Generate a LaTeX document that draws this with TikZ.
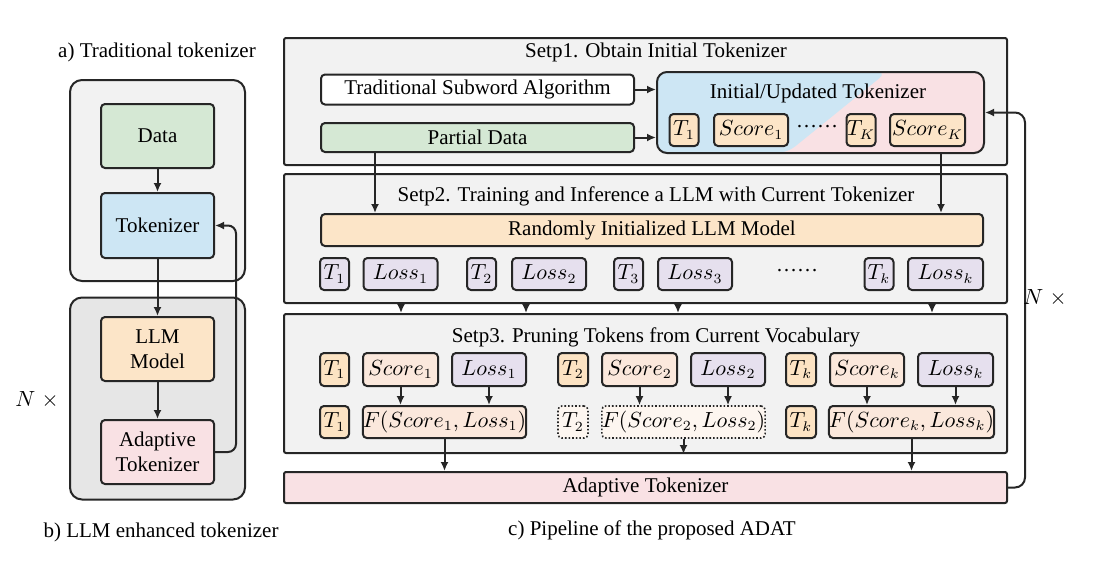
\documentclass[tikz,border=0pt]{standalone}
\usepackage{fontspec}
\setmainfont{Liberation Serif}
\usetikzlibrary{arrows.meta}
\definecolor{edge}{HTML}{262626}
\definecolor{cpanel}{HTML}{F2F2F2}
\definecolor{cpanelb}{HTML}{E6E6E6}
\definecolor{cgreen}{HTML}{D5E8D4}
\definecolor{cblue}{HTML}{CDE6F4}
\definecolor{corange}{HTML}{FCE5C8}
\definecolor{ctok}{HTML}{FCE3C3}
\definecolor{cscore}{HTML}{FBE8DC}
\definecolor{closs}{HTML}{E6E0EE}
\definecolor{cpink}{HTML}{F9E1E4}
\definecolor{cpruned}{HTML}{FDF6F0}
\begin{document}
\begin{tikzpicture}[x=0.5pt,y=-0.5pt,
  font=\fontsize{10.5}{12.5}\selectfont,
  box/.style={draw=edge,line width=1pt,rounded corners=2pt,inner sep=0pt,align=center},
  sq/.style={box,minimum width=14.5pt,minimum height=16pt,fill=ctok},
  sc/.style={box,minimum width=37pt,minimum height=16pt,fill=cscore},
  ls/.style={box,minimum width=37pt,minimum height=16pt,fill=closs},
  fx/.style={box,minimum width=81.5pt,minimum height=16pt,fill=cscore},
  cut/.style={line width=0.8pt,densely dotted,fill=cpruned},
  panel/.style={box,rounded corners=1pt,fill=cpanel,minimum width=361.5pt},
  arr/.style={draw=edge,line width=1pt,-{Latex[length=4.5pt,width=4pt]}}]
\useasboundingbox (0,0) rectangle (1094,564);

\node[box,rounded corners=6pt,fill=cpanel,minimum width=87.5pt,minimum height=100.5pt] (oa) at (157.5,180.5) {};
\node[box,rounded corners=6pt,fill=cpanelb,minimum width=87.5pt,minimum height=101pt] (ob) at (157.5,398.5) {};
\node[box,fill=cgreen,minimum width=56.5pt,minimum height=32pt] (d) at (157.5,136) {Data};
\node[box,fill=cblue,minimum width=56.5pt,minimum height=32.5pt] (tok) at (157.5,225.5) {Tokenizer};
\node[box,fill=corange,minimum width=56.5pt,minimum height=32pt] (llm) at (157.5,349) {LLM\\Model};
\node[box,fill=cpink,minimum width=56.5pt,minimum height=32pt] (ada) at (157.5,452) {Adaptive\\Tokenizer};
\node (la) at (157,52) {a) Traditional tokenizer};
\node (lb) at (161,532) {b) LLM enhanced tokenizer};
\node (na) at (37,400) {$N\;\times$};
\path[arr] (d) -- (tok);
\path[arr] (tok) -- (llm);
\path[arr] (llm) -- (ada);
\path[arr,rounded corners=4pt] (ada.east) -- ++(21,0) |- (tok.east);

\node[panel,minimum height=63.5pt] (s1) at (645.5,101.5) {};
\node[panel,minimum height=64.5pt] (s2) at (645.5,238.5) {};
\node[panel,minimum height=69.5pt] (s3) at (645.5,383.5) {};
\node (s1t) at (656,52) {Setp1. Obtain Initial Tokenizer};
\node (s2t) at (656,196) {Setp2. Training and Inference a LLM with Current Tokenizer};
\node (s3t) at (656,337) {Setp3. Pruning Tokens from Current Vocabulary};

\node[box,fill=white,minimum width=156.5pt,minimum height=15pt] (tsa) at (477.5,89.5) {Traditional Subword Algorithm};
\node[box,fill=cgreen,minimum width=156.5pt,minimum height=14.5pt] (pd) at (477.5,137.5) {Partial Data};
\node[box,rounded corners=5pt,fill=cpink,minimum width=163.5pt,minimum height=40.5pt,
  path picture={\fill[cblue] (path picture bounding box.north west) -- ([xshift=115pt]path picture bounding box.north west) -- ([xshift=65pt]path picture bounding box.south west) -- (path picture bounding box.south west) -- cycle;}] (ini) at (820.5,112.5) {};
\node (init) at (818,93) {Initial/Updated Tokenizer};
\node[sq] (it1) at (684,130) {$T_1$};
\node[sq,fill=corange,minimum width=37pt] (is1) at (751,130) {$Score_1$};
\node (idots) at (817,127) {\ldots\ldots};
\node[sq] (itk) at (861,130) {$T_K$};
\node[sq,fill=corange,minimum width=37.5pt] (isk) at (927.5,130) {$Score_K$};
\path[arr] (tsa.east) -- (tsa.east -| ini.west);
\path[arr] (pd.east) -- (pd.east -| ini.west);

\node[box,fill=corange,minimum width=331pt,minimum height=16pt] (rl) at (652,230) {Randomly Initialized LLM Model};
\path[arr] ([xshift=-51.25pt]pd.south) -- ([xshift=-51.25pt]pd.south |- rl.north);
\path[arr] ([xshift=60.25pt]ini.south) -- ([xshift=60.25pt]ini.south |- rl.north);
\node[sq,fill=closs] (a1) at (334.5,274) {$T_1$};
\node[ls] (b1) at (400.5,274) {$Loss_1$};
\node[sq,fill=closs] (a2) at (481.5,274) {$T_2$};
\node[ls] (b2) at (549,274) {$Loss_2$};
\node[sq,fill=closs] (a3) at (628.5,274) {$T_3$};
\node[ls] (b3) at (695,274) {$Loss_3$};
\node (ldots) at (797,271) {\ldots\ldots};
\node[sq,fill=closs] (ak) at (879,274) {$T_k$};
\node[ls,minimum width=37.5pt] (bk) at (945.5,274) {$Loss_k$};
\foreach \dx in {-122.25,-59.75,16.25,143.25}
  \path[arr] ([xshift=\dx pt]s2.south) -- ([xshift=\dx pt]s3.north);

\node[sq,minimum height=16.5pt] (p1) at (334.5,369.5) {$T_1$};
\node[sc,minimum width=37.5pt,minimum height=16.5pt] (q1) at (400.5,369.5) {$Score_1$};
\node[ls,minimum height=16.5pt] (r1) at (489,369.5) {$Loss_1$};
\node[sq,minimum width=15pt,minimum height=16.5pt] (p2) at (573,369.5) {$T_2$};
\node[sc,minimum width=37.5pt,minimum height=16.5pt] (q2) at (639.5,369.5) {$Score_2$};
\node[ls,minimum height=16.5pt] (r2) at (728,369.5) {$Loss_2$};
\node[sq,minimum width=15pt,minimum height=16.5pt] (pk) at (801,369.5) {$T_k$};
\node[sc,minimum height=16.5pt] (qk) at (867,369.5) {$Score_k$};
\node[ls,minimum width=37.5pt,minimum height=16.5pt] (rk) at (955.5,369.5) {$Loss_k$};
\node[sq] (u1) at (334.5,422) {$T_1$};
\node[fx] (f1) at (444.5,422) {$F(Score_1,Loss_1)$};
\node[sq,cut,minimum width=15pt] (u2) at (573,422) {$T_2$};
\node[fx,cut] (f2) at (683.5,422) {$F(Score_2,Loss_2)$};
\node[sq,minimum width=15pt] (uk) at (801,422) {$T_k$};
\node[fx] (fk) at (911.5,422) {$F(Score_k,Loss_k)$};
\path[arr] (q1) -- (q1.south |- f1.north);
\path[arr] (r1) -- (r1.south |- f1.north);
\path[arr] (q2) -- (q2.south |- f2.north);
\path[arr] (r2) -- (r2.south |- f2.north);
\path[arr] (qk) -- (qk.south |- fk.north);
\path[arr] (rk) -- (rk.south |- fk.north);

\node[box,rounded corners=1pt,fill=cpink,minimum width=361.5pt,minimum height=15.5pt] (at) at (645.5,487.5) {Adaptive Tokenizer};
\path[arr] (f1) -- (f1.south |- at.north);
\path[arr] (f2) -- (f2.south |- s3.south);
\path[arr] (fk) -- (fk.south |- at.north);
\path[arr,rounded corners=5pt] (at.east) -- ++(17,0) |- (ini.east);
\node (nb) at (1045,298) {$N\;\times$};
\node (lc) at (652,530) {c) Pipeline of the proposed ADAT};
\end{tikzpicture}
\end{document}
